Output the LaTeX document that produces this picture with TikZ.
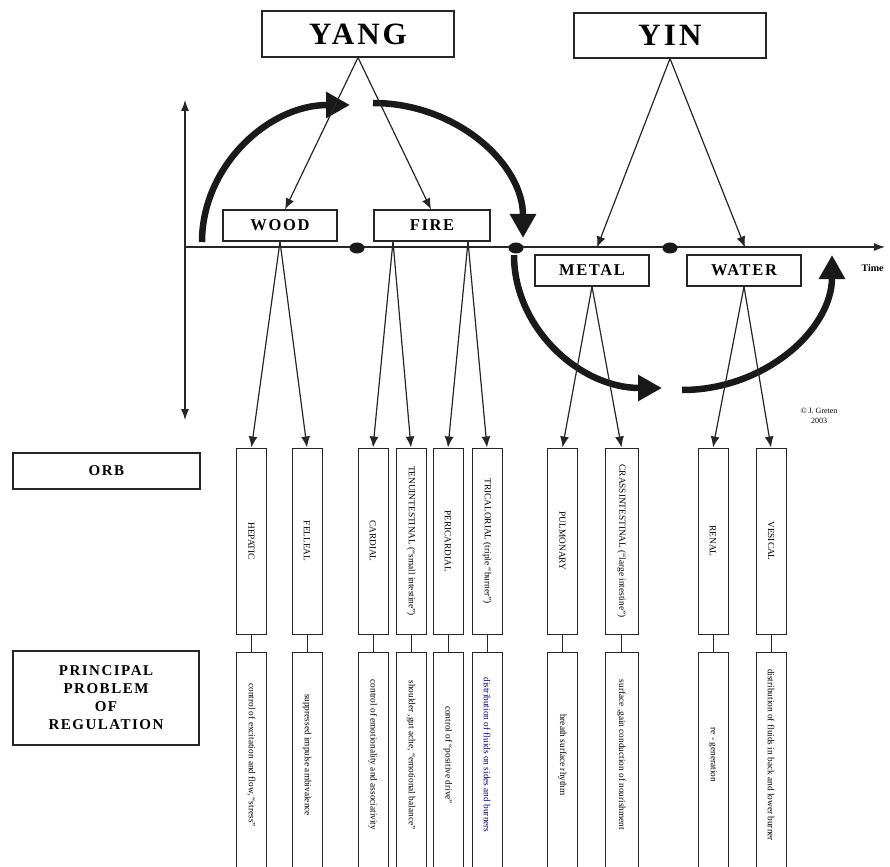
\documentclass[tikz,border=0pt]{standalone}
\usepackage{fontspec}
\setmainfont{Liberation Serif}
\newfontfamily\spacedserif[LetterSpace=10]{Liberation Serif}
\usetikzlibrary{arrows.meta,shapes.geometric,calc}
\begin{document}
\begin{tikzpicture}[x=1pt,y=-1pt,
  ink/.style={draw=black!85},
  headbox/.style={ink, line width=1.1pt, inner sep=0pt, font=\spacedserif\bfseries\fontsize{31}{33}\selectfont},
  phasebox/.style={ink, line width=1.1pt, inner sep=0pt, minimum height=31pt, font=\spacedserif\bfseries\fontsize{16.5}{18}\selectfont},
  sidebox/.style={ink, line width=1.1pt, inner sep=0pt, align=center, font=\spacedserif\bfseries\fontsize{15}{18}\selectfont},
  orbbox/.style={ink, line width=1pt, inner sep=0pt, minimum width=30pt, minimum height=186pt, font=\fontsize{9.3}{10}\selectfont},
  probbox/.style={ink, line width=1pt, inner sep=0pt, minimum width=30pt, minimum height=228pt, font=\fontsize{9.3}{10}\selectfont},
  link/.style={line width=1.2pt, draw=black!85, -{Latex[length=11pt,width=9pt]}},
  stub/.style={line width=1pt, draw=black!85},
  axis/.style={line width=1.2pt, draw=black!85},
  bigturn/.style={line width=6.5pt, draw=black!90, -{Triangle[length=24pt,width=25pt]}},
  tick/.style={ellipse, fill=black!90, minimum width=15pt, minimum height=11pt, inner sep=0pt},
]
\useasboundingbox (0,0) rectangle (890,866);
\clip (0,0) rectangle (890,866);

% --- Yang / Yin and the four phases
\node[headbox, minimum width=192pt, minimum height=46pt] (yang) at (358,34) {YANG};
\node[headbox, minimum width=192pt, minimum height=45pt] (yin) at (670,35.5) {YIN};
\node[phasebox, minimum width=114pt] (wood) at (280,225.5) {WOOD};
\node[phasebox, minimum width=116pt] (fire) at (432,225.5) {FIRE};
\node[phasebox, minimum width=114pt] (metal) at (592,270.5) {METAL};
\node[phasebox, minimum width=114pt] (water) at (744,270.5) {WATER};

% --- axes
\coordinate (vtop) at (185,100);
\coordinate (vbot) at (185,420);
\coordinate (hstart) at (185,247);
\coordinate (hend) at (885,247);
\draw[axis, {Latex[length=11pt,width=8pt]}-{Latex[length=11pt,width=8pt]}] (vbot) -- (vtop);
\draw[axis, -{Latex[length=11pt,width=8pt]}] (hstart) -- (hend);
\node[anchor=west, font=\bfseries\fontsize{10}{12}\selectfont] (timelbl) at (858,268) {Time};

\node[tick] (d1) at (357,248) {};
\node[tick] (d2) at (516,248) {};
\node[tick] (d3) at (670,248) {};

% --- the cycle of the phases
\draw[bigturn] (202,242) arc[start angle=180, end angle=90, x radius=148pt, y radius=137pt];
\draw[bigturn] (373,103) arc[start angle=90, end angle=0, x radius=150pt, y radius=135pt];
\draw[bigturn] (514,255) arc[start angle=180, end angle=270, x radius=148pt, y radius=133pt];
\draw[bigturn] (682,390) arc[start angle=270, end angle=360, x radius=150pt, y radius=135pt];

% --- Yang and Yin split into phases
\draw[link] (yang.south) -- ([xshift=5pt]wood.north);
\draw[link] (yang.south) -- ([xshift=-1pt]fire.north);
\draw[link] (yin.south) -- ([shift={(5,-7)}]metal.north);
\draw[link] (yin.south) -- ([shift={(1,-7)}]water.north);

% --- orbs
\node[orbbox] (hep) at (251.5,541) {\rotatebox{-90}{HEPATIC}};
\node[orbbox] (fel) at (307,541) {\rotatebox{-90}{FELLEAL}};
\node[orbbox] (car) at (373,541) {\rotatebox{-90}{CARDIAL}};
\node[orbbox] (ten) at (411,541) {\rotatebox{-90}{TENUINTESTINAL (``small intestine'')}};
\node[orbbox] (per) at (448,541) {\rotatebox{-90}{PERICARDIAL}};
\node[orbbox] (tri) at (487,541) {\rotatebox{-90}{TRICALORIAL (triple ``burner'')}};
\node[orbbox] (pul) at (562.5,541) {\rotatebox{-90}{PULMONARY}};
\node[orbbox, minimum width=33pt] (cra) at (621.5,541) {\rotatebox{-90}{CRASSINTESTINAL (``large intestine'')}};
\node[orbbox] (ren) at (713,541) {\rotatebox{-90}{RENAL}};
\node[orbbox] (ves) at (771,541) {\rotatebox{-90}{VESICAL}};

% --- phases branch into orbs
\coordinate (woodfork) at (wood.south);
\coordinate (firefork1) at ([xshift=-39pt]fire.south);
\coordinate (firefork2) at ([xshift=36pt]fire.south);
\draw[link] (woodfork) -- (hep.north);
\draw[link] (woodfork) -- (fel.north);
\draw[link] (firefork1) -- (car.north);
\draw[link] (firefork1) -- (ten.north);
\draw[link] (firefork2) -- (per.north);
\draw[link] (firefork2) -- (tri.north);
\draw[link] (metal.south) -- (pul.north);
\draw[link] (metal.south) -- (cra.north);
\draw[link] (water.south) -- (ren.north);
\draw[link] (water.south) -- (ves.north);

% --- principal problems of regulation
\newcommand{\probtext}[1]{\rotatebox{-90}{#1\hspace*{22pt}}}
\node[probbox] (phep) at (251.5,766) {\probtext{control of excitation and flow, ``stress''}};
\node[probbox] (pfel) at (307,766) {\probtext{suppressed impulse ambivalence}};
\node[probbox] (pcar) at (373,766) {\probtext{control of emotionality and associativity}};
\node[probbox] (pten) at (411,766) {\probtext{shoulder ,gut ache, ``emotional balance''}};
\node[probbox] (pper) at (448,766) {\probtext{control of ``positive drive''}};
\node[probbox, text=blue!45!black] (ptri) at (487,766) {\probtext{distribution of fluids on sides and burners}};
\node[probbox] (ppul) at (562.5,766) {\probtext{breath surface rhythm}};
\node[probbox, minimum width=33pt] (pcra) at (621.5,766) {\probtext{surface ,gain conduction of nourishment}};
\node[probbox] (pren) at (713,766) {\probtext{re - generation}};
\node[probbox] (pves) at (771,766) {\probtext{distribution of fluids in back and lower burner}};

\foreach \a in {hep,fel,car,ten,per,tri,pul,cra,ren,ves}
  \draw[stub] (\a.south) -- (p\a.north);

% --- row headings
\node[sidebox, minimum width=187pt, minimum height=36pt] (orblbl) at (106.5,471) {ORB};
\node[sidebox, minimum width=186pt, minimum height=94pt] (problbl) at (106,698) {PRINCIPAL\\PROBLEM\\OF\\REGULATION};

\node[align=center, font=\fontsize{8}{10}\selectfont, inner sep=0pt] (credit) at (819,416) {\textcopyright\ J. Greten\\2003};
\end{tikzpicture}
\end{document}
